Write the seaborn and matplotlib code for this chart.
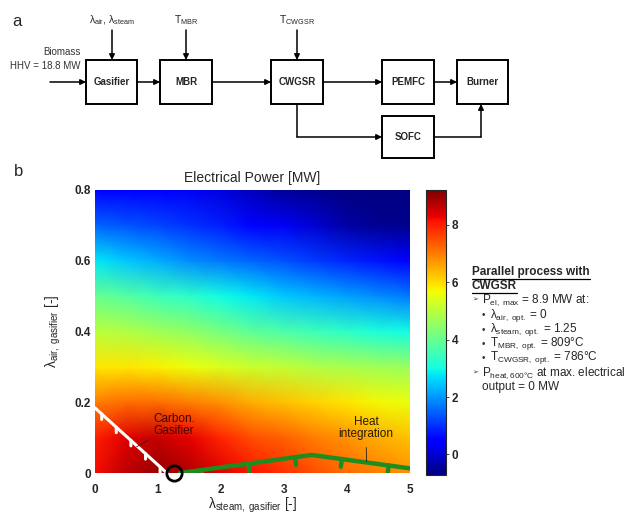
import matplotlib
matplotlib.use("Agg")
import matplotlib.pyplot as plt
import matplotlib.patheffects as pe
from matplotlib.patches import Rectangle
import numpy as np
import seaborn as sns

# grid of the map (steam ratio along x, air ratio along y)
STEAM_RATIO = [0.0, 0.5, 1.0, 1.5, 2.0, 2.5, 3.0, 3.5, 4.0, 4.5, 5.0]
AIR_RATIO = [0.0, 0.1, 0.2, 0.3, 0.4, 0.5, 0.6, 0.7, 0.8]

# electrical power [MW], one list per air ratio row
P_AIR_00 = [8.2, 8.7, 9.0, 8.8, 8.4, 8.1, 7.8, 7.5, 7.2, 7.0, 6.8]
P_AIR_01 = [8.0, 8.4, 8.6, 8.3, 7.9, 7.5, 7.3, 7.0, 6.8, 6.5, 6.3]
P_AIR_02 = [7.0, 7.2, 7.2, 7.0, 6.8, 6.5, 6.3, 6.1, 5.9, 5.7, 5.6]
P_AIR_03 = [5.9, 5.9, 5.8, 5.6, 5.4, 5.2, 5.1, 4.9, 4.8, 4.7, 4.6]
P_AIR_04 = [5.0, 4.9, 4.7, 4.5, 4.2, 3.9, 3.7, 3.5, 3.3, 3.1, 3.0]
P_AIR_05 = [4.0, 3.8, 3.5, 3.3, 3.0, 2.8, 2.5, 2.3, 2.1, 1.9, 1.7]
P_AIR_06 = [2.8, 2.5, 2.2, 1.9, 1.7, 1.5, 1.3, 1.1, 0.9, 0.7, 0.5]
P_AIR_07 = [1.5, 1.35, 1.2, 1.0, 0.8, 0.55, 0.3, 0.0, -0.4, -0.55, -0.6]
P_AIR_08 = [0.55, 0.5, 0.45, 0.3, 0.1, -0.2, -0.5, -0.6, -0.7, -0.7, -0.7]

P_MIN, P_MAX = -0.72, 9.22
CBAR_TICKS = [0, 2, 4, 6, 8]
X_TICKS = [0, 1, 2, 3, 4, 5]
Y_TICKS = [0, 0.2, 0.4, 0.6, 0.8]
Y_TICK_LABELS = ["0", "0.2", "0.4", "0.6", "0.8"]

# boundaries drawn on top of the map
CARBON_STEAM = [0.0, 1.14]
CARBON_AIR = [0.184, 0.0]
HEAT_STEAM = [1.35, 3.44, 5.0]
HEAT_AIR = [0.0, 0.051, 0.013]
OPT_STEAM = [1.25]
OPT_AIR = [0.0]

W, H = 629, 516

sns.set_style("white")
plt.rcParams["font.family"] = ["Liberation Sans", "DejaVu Sans"]
plt.rcParams["mathtext.fontset"] = "custom"
plt.rcParams["mathtext.rm"] = "Liberation Sans"
plt.rcParams["mathtext.it"] = "Liberation Sans:italic"
plt.rcParams["mathtext.bf"] = "Liberation Sans:bold"

fig = plt.figure(figsize=(W / 100, H / 100), dpi=100)

# ---------------- panel b: power map ----------------
ax = fig.add_axes([95 / W, (H - 473) / H, 315 / W, 283 / H])
field = np.vstack([P_AIR_00, P_AIR_01, P_AIR_02, P_AIR_03, P_AIR_04,
                   P_AIR_05, P_AIR_06, P_AIR_07, P_AIR_08])
mesh = ax.pcolormesh(STEAM_RATIO, AIR_RATIO, field, shading="gouraud",
                     cmap="jet", vmin=P_MIN, vmax=P_MAX, rasterized=True)
ax.set_xlim(0, 5)
ax.set_ylim(0, 0.8)
ax.set_xticks(X_TICKS)
ax.set_xticklabels([str(t) for t in X_TICKS])
ax.set_yticks(Y_TICKS)
ax.set_yticklabels(Y_TICK_LABELS)
ax.tick_params(axis="both", direction="in", length=0, labelsize=8.5)
ax.tick_params(axis="x", pad=8)
ax.tick_params(axis="y", pad=3)
for lbl in ax.get_xticklabels() + ax.get_yticklabels():
    lbl.set_fontweight("bold")
for sp in ax.spines.values():
    sp.set_visible(False)
ax.set_title("Electrical Power [MW]", fontsize=10, pad=6)
ax.set_xlabel(r"λ$_{\mathrm{steam,\ gasifier}}$ [-]", fontsize=10, labelpad=0)
ax.set_ylabel(r"λ$_{\mathrm{air,\ gasifier}}$ [-]", fontsize=10, labelpad=8)

sns.lineplot(x=CARBON_STEAM, y=CARBON_AIR, ax=ax, color="white", lw=2.2,
             path_effects=[pe.withTickedStroke(spacing=13, angle=-48, length=0.3)])
sns.lineplot(x=HEAT_STEAM, y=HEAT_AIR, ax=ax, color="#1e8c1e", lw=3.2,
             path_effects=[pe.withTickedStroke(spacing=31, angle=-90, length=0.18)])
ax.plot(OPT_STEAM, OPT_AIR, "o", mfc="none", mec="black", ms=11, mew=2,
        clip_on=False, zorder=5)

ax.annotate("Carbon.\nGasifier", xy=(0.66, 0.074), xytext=(0.92, 0.136),
            fontsize=8.5, color="#4a0000", ha="left", va="center",
            linespacing=1.0,
            arrowprops=dict(arrowstyle="-", lw=0.6, color="#222222",
                            shrinkA=2, shrinkB=0))
ax.annotate("Heat\nintegration", xy=(4.31, 0.032), xytext=(4.30, 0.127),
            fontsize=8.5, color="#2a1a00", ha="center", va="center",
            linespacing=1.0,
            arrowprops=dict(arrowstyle="-", lw=0.6, color="#222222",
                            shrinkA=3, shrinkB=0))

cax = fig.add_axes([426 / W, (H - 475) / H, 20 / W, 285 / H])
cb = fig.colorbar(mesh, cax=cax, ticks=CBAR_TICKS)
cb.outline.set_linewidth(0.8)
cax.tick_params(direction="out", length=2, width=0.6, labelsize=8.5, pad=2)
for lbl in cax.get_yticklabels():
    lbl.set_fontweight("bold")

# ---------------- overlay in pixel coordinates ----------------
ov = fig.add_axes([0, 0, 1, 1])
ov.set_xlim(0, W)
ov.set_ylim(H, 0)
ov.axis("off")

ov.text(12, 22, "a", fontsize=12, ha="left", va="center")
ov.text(14, 172, "b", fontsize=12, ha="left", va="center")

# panel a: process flow diagram
boxes = {
    "Gasifier": (86, 60, 137, 104),
    "MBR": (160, 60, 212, 104),
    "CWGSR": (271, 60, 323, 104),
    "PEMFC": (382, 60, 434, 104),
    "Burner": (457, 60, 508, 104),
    "SOFC": (382, 116, 434, 158),
}
for name, (x0, y0, x1, y1) in boxes.items():
    ov.add_patch(Rectangle((x0, y0), x1 - x0, y1 - y0, fill=True, fc="white",
                           ec="black", lw=1.4))
    ov.text((x0 + x1) / 2, (y0 + y1) / 2, name, fontsize=7, fontweight="bold",
            ha="center", va="center")

arrow_kw = dict(arrowstyle="-|>", lw=1.1, color="black", mutation_scale=8,
                shrinkA=0, shrinkB=0)


def arrow(x0, y0, x1, y1):
    ov.annotate("", xy=(x1, y1), xytext=(x0, y0), arrowprops=arrow_kw)


arrow(50, 82, 86, 82)
arrow(137, 82, 160, 82)
arrow(212, 82, 271, 82)
arrow(323, 82, 382, 82)
arrow(434, 82, 457, 82)
ov.plot([297, 297], [104, 137], color="black", lw=1.1)
arrow(297, 137, 382, 137)
ov.plot([434, 481], [137, 137], color="black", lw=1.1)
arrow(481, 137, 481, 104)
for xc in (112, 186, 297):
    arrow(xc, 30, xc, 60)

ov.text(81, 52, "Biomass", fontsize=7, ha="right", va="center", color="#333333")
ov.text(81, 66, "HHV = 18.8 MW", fontsize=7, ha="right", va="center", color="#333333")
ov.text(112, 20, r"λ$_{\mathrm{air}}$, λ$_{\mathrm{steam}}$", fontsize=7.5,
        ha="center", va="center")
ov.text(186, 20, r"T$_{\mathrm{MBR}}$", fontsize=7.5, ha="center", va="center")
ov.text(297, 20, r"T$_{\mathrm{CWGSR}}$", fontsize=7.5, ha="center", va="center")

# summary text beside the colorbar
fs = 8.5
head1 = ov.text(472, 272, "Parallel process with", fontsize=fs,
                fontweight="bold", ha="left", va="center")
head2 = ov.text(472, 286, "CWGSR", fontsize=fs, fontweight="bold",
                ha="left", va="center")
lines = [
    (475, 482, 300, "➢", r"P$_{\mathrm{el,\ max}}$ = 8.9 MW at:"),
    (483, 490, 315, "•", r"λ$_{\mathrm{air,\ opt.}}$ = 0"),
    (483, 490, 330, "•", r"λ$_{\mathrm{steam,\ opt.}}$ = 1.25"),
    (483, 490, 344, "•", r"T$_{\mathrm{MBR,\ opt.}}$ = 809°C"),
    (483, 490, 358, "•", r"T$_{\mathrm{CWGSR,\ opt.}}$ = 786°C"),
    (475, 482, 373, "➢", r"P$_{\mathrm{heat,600°C}}$ at max. electrical"),
]
for bx, tx, ty, bullet, txt in lines:
    ov.text(bx, ty, bullet, fontsize=5 if bullet == "➢" else 7,
            ha="center", va="center", color="#333333")
    ov.text(tx, ty, txt, fontsize=fs, ha="left", va="center")
ov.text(482, 387, "output = 0 MW", fontsize=fs, ha="left", va="center")

fig.canvas.draw()
for t in (head1, head2):
    bb = t.get_window_extent()
    ov.plot([bb.x0, bb.x1], [H - bb.y0 + 1, H - bb.y0 + 1], color="black", lw=0.9)

fig.savefig("out.png", dpi=100)
